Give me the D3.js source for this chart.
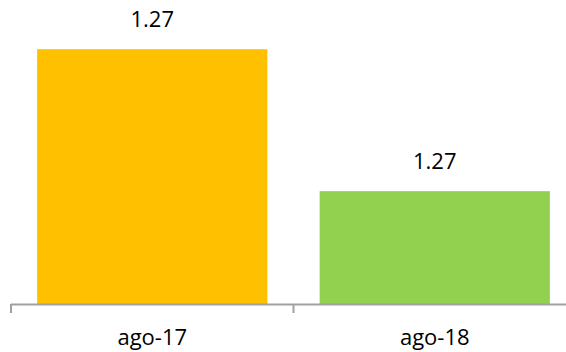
<!DOCTYPE html>
<html>
<head>
<meta charset="utf-8">
<script src="https://cdn.jsdelivr.net/npm/d3@7"></script>
<style>
  body { margin: 0; background: #fff; }
  text { font-family: "Open Sans", sans-serif; fill: #000; }
</style>
</head>
<body>
<div id="chart"></div>
<script>
// data
var categories = ["ago-17", "ago-18"];
var values = [1.274, 1.2662];
var valueLabels = ["1.27", "1.27"];
var barColors = ["#FFC000", "#92D050"];

var width = 566,
    height = 352,
    yMin = 1.26,
    yMax = 1.275;

var svg = d3.select("#chart")
  .append("svg")
  .attr("width", width)
  .attr("height", height);

// scales
var x = d3.scaleBand()
  .domain(categories)
  .range([11, 576])
  .paddingInner(0.185)
  .paddingOuter(0.0925);

var y = d3.scaleLinear()
  .domain([yMin, yMax])
  .range([304, 31]);

// bars
svg.selectAll("rect.bar")
  .data(values)
  .enter()
  .append("rect")
  .attr("class", "bar")
  .attr("x", (d, i) => x(categories[i]))
  .attr("y", d => y(d))
  .attr("width", x.bandwidth())
  .attr("height", d => y(yMin) - y(d))
  .style("fill", (d, i) => barColors[i]);

// value labels
svg.selectAll("text.value")
  .data(values)
  .enter()
  .append("text")
  .attr("class", "value")
  .attr("x", (d, i) => x(categories[i]) + x.bandwidth() / 2)
  .attr("y", d => y(d) - 22)
  .attr("text-anchor", "middle")
  .style("font-size", "22px")
  .text((d, i) => valueLabels[i]);

// x axis line with ticks between categories
var axis = svg.append("g");
var step = x.step();
axis.append("line")
  .attr("x1", 11).attr("x2", width)
  .attr("y1", 304.5).attr("y2", 304.5)
  .style("stroke", "#a0a0a0")
  .style("stroke-width", 2);

var tickPos = [11].concat(categories.map(c => x(c) + x.bandwidth() + step * x.paddingInner() / 2));
axis.selectAll("line.tick")
  .data(tickPos)
  .enter()
  .append("line")
  .attr("class", "tick")
  .attr("x1", d => d).attr("x2", d => d)
  .attr("y1", 304).attr("y2", 313)
  .style("stroke", "#a0a0a0")
  .style("stroke-width", 2);

axis.selectAll("text.cat")
  .data(categories)
  .enter()
  .append("text")
  .attr("class", "cat")
  .attr("x", d => x(d) + x.bandwidth() / 2)
  .attr("y", 345)
  .attr("text-anchor", "middle")
  .style("font-size", "22px")
  .text(d => d);
</script>
</body>
</html>
